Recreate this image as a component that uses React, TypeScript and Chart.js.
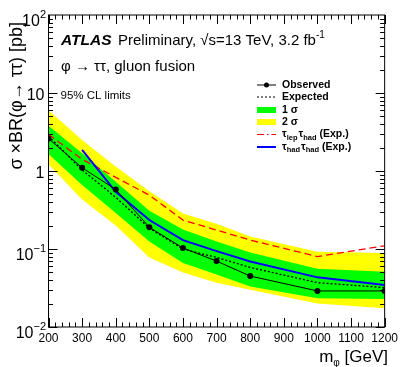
import React, { useEffect, useRef } from "react";
import { Chart, registerables } from "chart.js";
Chart.register(...registerables);

// ---- data ----
const masses = [200, 300, 400, 500, 600, 700, 800, 1000, 1200];
const observed = [2.6, 1.1, 0.58, 0.19, 0.103, 0.07, 0.045, 0.029, 0.029];
const expected = [2.8, 1.03, 0.46, 0.185, 0.1, 0.078, 0.058, 0.037, 0.032];
const band1Up = [3.8, 1.69, 0.73, 0.31, 0.178, 0.125, 0.09, 0.056, 0.051];
const band1Down = [1.65, 0.66, 0.29, 0.125, 0.066, 0.047, 0.033, 0.0233, 0.0229];
const band2Up = [6.0, 2.5, 1.14, 0.55, 0.285, 0.21, 0.145, 0.092, 0.089];
const band2Down = [1.22, 0.43, 0.2, 0.078, 0.05, 0.037, 0.03, 0.02, 0.0174];
const lepHadMasses = [200, 300, 400, 500, 600, 700, 800, 1000, 1200];
const lepHadExp = [2.95, 1.41, 0.83, 0.49, 0.235, 0.175, 0.13, 0.08, 0.11];
const hadHadMasses = [300, 400, 500, 600, 700, 800, 1000, 1200];
const hadHadExp = [1.86, 0.54, 0.235, 0.13, 0.094, 0.069, 0.0433, 0.0345];
const yMajorTicks = [0.01, 0.1, 1, 10, 100];
const yTickExponents = ["-2", "-1", "", "", "2"];
const yTickBases = ["10", "10", "1", "10", "10"];

const FONT = "'Liberation Sans', Arial, Helvetica, sans-serif";
const pts = (xs: number[], ys: number[]) => xs.map((x, i) => ({ x, y: ys[i] }));

const overlay = {
  id: "overlay",
  afterDraw(chart: any) {
    const ctx = chart.ctx as CanvasRenderingContext2D;
    const { left, right, top, bottom } = chart.chartArea;
    const xs = chart.scales.x;
    const ys = chart.scales.y;
    ctx.save();
    // frame
    ctx.strokeStyle = "#000";
    ctx.lineWidth = 1;
    ctx.strokeRect(left, top, right - left, bottom - top);
    // x ticks (bottom & top)
    ctx.beginPath();
    for (let m = 200; m <= 1200; m += 20) {
      const px = Math.round(xs.getPixelForValue(m)) + 0.5;
      const len = m % 100 === 0 ? 9 : 4.5;
      ctx.moveTo(px, bottom);
      ctx.lineTo(px, bottom - len);
      ctx.moveTo(px, top);
      ctx.lineTo(px, top + len);
    }
    // y ticks (left & right)
    for (let e = -2; e < 2; e++) {
      for (let k = 1; k <= 9; k++) {
        const v = k * Math.pow(10, e);
        const py = Math.round(ys.getPixelForValue(v)) + 0.5;
        const len = k === 1 ? 9 : 4.5;
        ctx.moveTo(left, py);
        ctx.lineTo(left + len, py);
        ctx.moveTo(right, py);
        ctx.lineTo(right - len, py);
      }
    }
    ctx.stroke();

    // y tick labels
    ctx.fillStyle = "#000";
    ctx.textBaseline = "alphabetic";
    ctx.textAlign = "left";
    yMajorTicks.forEach((v, i) => {
      const py = ys.getPixelForValue(v);
      const base = yTickBases[i];
      const ex = yTickExponents[i].replace("-", "\u2212");
      const xr = 46;
      ctx.font = `16px ${FONT}`;
      const bw = ctx.measureText(base).width;
      if (ex) {
        ctx.font = `11px ${FONT}`;
        const ew = ctx.measureText(ex).width;
        ctx.font = `16px ${FONT}`;
        const by = py + 10.5;
        ctx.fillText(base, xr - ew - bw, by);
        ctx.font = `11px ${FONT}`;
        ctx.fillText(ex, xr - ew, by - 8);
      } else {
        ctx.fillText(base, xr - 1.5 - bw, py + 6.5);
      }
    });

    // axis titles
    // x title: m_phi [GeV]
    ctx.font = `17px ${FONT}`;
    const wM = ctx.measureText("m").width;
    const wRest = ctx.measureText(" [GeV]").width;
    ctx.font = `10px ${FONT}`;
    const wPhi = ctx.measureText("\u03c6").width;
    let x0 = 388 - (wM + wPhi + wRest);
    const xb = 362;
    ctx.font = `17px ${FONT}`;
    ctx.fillText("m", x0, xb);
    ctx.font = `10px ${FONT}`;
    ctx.fillText("\u03c6", x0 + wM, xb + 3.5);
    ctx.font = `17px ${FONT}`;
    ctx.fillText(" [GeV]", x0 + wM + wPhi, xb);

    // y title
    ctx.save();
    ctx.translate(17, 22);
    ctx.rotate(-Math.PI / 2);
    ctx.font = `18px ${FONT}`;
    ctx.textAlign = "right";
    ctx.textBaseline = "middle";
    ctx.fillText("\u03c3 \u00d7BR(\u03c6\u2192 \u03c4\u03c4) [pb]", 0, 0);
    ctx.restore();

    // ATLAS label
    ctx.textAlign = "left";
    ctx.textBaseline = "alphabetic";
    ctx.font = `italic bold 15.5px ${FONT}`;
    ctx.fillText("ATLAS", 61, 45);
    ctx.font = `15px ${FONT}`;
    const prelim = "Preliminary, \u221As=13 TeV, 3.2 fb";
    ctx.fillText(prelim, 118, 45);
    const pw = ctx.measureText(prelim).width;
    ctx.font = `10px ${FONT}`;
    ctx.fillText("-1", 118 + pw, 38);
    ctx.font = `15px ${FONT}`;
    ctx.fillText("\u03c6 \u2192 \u03c4\u03c4, gluon fusion", 61, 71);
    ctx.font = `11.5px ${FONT}`;
    ctx.fillText("95% CL limits", 60.5, 98.5);

    // legend
    const lx0 = 257, lx1 = 276, tx = 282;
    const rows = [85, 97, 110, 122, 134.5, 147];
    ctx.font = `bold 10.5px ${FONT}`;
    ctx.textBaseline = "middle";
    // Observed
    ctx.strokeStyle = "#000";
    ctx.lineWidth = 1;
    ctx.setLineDash([]);
    ctx.beginPath();
    ctx.moveTo(lx0, rows[0]);
    ctx.lineTo(lx1, rows[0]);
    ctx.stroke();
    ctx.beginPath();
    ctx.arc((lx0 + lx1) / 2, rows[0], 2.5, 0, Math.PI * 2);
    ctx.fill();
    ctx.fillText("Observed", tx, rows[0] + 0.5);
    // Expected
    ctx.setLineDash([2, 2]);
    ctx.beginPath();
    ctx.moveTo(lx0, rows[1]);
    ctx.lineTo(lx1, rows[1]);
    ctx.stroke();
    ctx.setLineDash([]);
    ctx.fillText("Expected", tx, rows[1] + 0.5);
    // 1 sigma
    ctx.fillStyle = "#00ff00";
    ctx.fillRect(lx0, rows[2] - 3, lx1 - lx0, 6);
    ctx.fillStyle = "#000";
    ctx.fillText("1 \u03c3", tx, rows[2] + 0.5);
    // 2 sigma
    ctx.fillStyle = "#ffff00";
    ctx.fillRect(lx0, rows[3] - 3, lx1 - lx0, 6);
    ctx.fillStyle = "#000";
    ctx.fillText("2 \u03c3", tx, rows[3] + 0.5);
    // tau_lep tau_had
    ctx.strokeStyle = "#ff0000";
    ctx.lineWidth = 1.2;
    ctx.setLineDash([7, 3, 1.5, 3]);
    ctx.beginPath();
    ctx.moveTo(lx0, rows[4]);
    ctx.lineTo(lx1, rows[4]);
    ctx.stroke();
    ctx.setLineDash([]);
    const drawTauLabel = (sub1: string, sub2: string, y: number) => {
      let x = tx;
      ctx.font = `bold 10.5px ${FONT}`;
      ctx.fillText("\u03c4", x, y);
      x += ctx.measureText("\u03c4").width;
      ctx.font = `bold 7.5px ${FONT}`;
      ctx.fillText(sub1, x, y + 3);
      x += ctx.measureText(sub1).width + 1;
      ctx.font = `bold 10.5px ${FONT}`;
      ctx.fillText("\u03c4", x, y);
      x += ctx.measureText("\u03c4").width;
      ctx.font = `bold 7.5px ${FONT}`;
      ctx.fillText(sub2, x, y + 3);
      x += ctx.measureText(sub2).width;
      ctx.font = `bold 10.5px ${FONT}`;
      ctx.fillText(" (Exp.)", x, y);
    };
    ctx.fillStyle = "#000";
    drawTauLabel("lep", "had", rows[4]);
    // tau_had tau_had
    ctx.strokeStyle = "#0000ff";
    ctx.lineWidth = 2;
    ctx.beginPath();
    ctx.moveTo(lx0, rows[5]);
    ctx.lineTo(lx1, rows[5]);
    ctx.stroke();
    drawTauLabel("had", "had", rows[5]);
    ctx.restore();
  },
};

export default function App() {
  const ref = useRef<HTMLCanvasElement | null>(null);
  useEffect(() => {
    document.body.style.margin = "0";
    const canvas = ref.current!;
    const chart = new Chart(canvas, {
      type: "line",
      data: {
        datasets: [
          {
            label: "Observed",
            data: pts(masses, observed),
            borderColor: "#000",
            backgroundColor: "#000",
            borderWidth: 1,
            pointRadius: 3,
            pointBorderWidth: 0,
            fill: false,
          },
          {
            label: "tau_had tau_had (Exp.)",
            data: pts(hadHadMasses, hadHadExp),
            borderColor: "#0000ff",
            borderWidth: 2,
            pointRadius: 0,
            fill: false,
          },
          {
            label: "tau_lep tau_had (Exp.)",
            data: pts(lepHadMasses, lepHadExp),
            borderColor: "#ff0000",
            borderWidth: 1.3,
            borderDash: [7, 4],
            pointRadius: 0,
            fill: false,
          },
          {
            label: "Expected",
            data: pts(masses, expected),
            borderColor: "#000",
            borderWidth: 1.3,
            borderDash: [2, 2],
            pointRadius: 0,
            fill: false,
          },
          {
            label: "1 sigma up",
            data: pts(masses, band1Up),
            borderWidth: 0,
            borderColor: "rgba(0,0,0,0)",
            backgroundColor: "#00ff00",
            pointRadius: 0,
            fill: "+1",
          },
          {
            label: "1 sigma down",
            data: pts(masses, band1Down),
            borderWidth: 0,
            borderColor: "rgba(0,0,0,0)",
            pointRadius: 0,
            fill: false,
          },
          {
            label: "2 sigma up",
            data: pts(masses, band2Up),
            borderWidth: 0,
            borderColor: "rgba(0,0,0,0)",
            backgroundColor: "#ffff00",
            pointRadius: 0,
            fill: "+1",
          },
          {
            label: "2 sigma down",
            data: pts(masses, band2Down),
            borderWidth: 0,
            borderColor: "rgba(0,0,0,0)",
            pointRadius: 0,
            fill: false,
          },
        ],
      },
      options: {
        responsive: false,
        maintainAspectRatio: false,
        animation: false,
        devicePixelRatio: 1,
        layout: { padding: { left: 0, right: 14, top: 15, bottom: 0 } },
        plugins: {
          legend: { display: false },
          tooltip: { enabled: false },
          title: { display: false },
        },
        elements: { line: { tension: 0 } },
        scales: {
          x: {
            type: "linear",
            min: 200,
            max: 1200,
            grid: { display: false, drawTicks: false },
            border: { display: false },
            ticks: {
              stepSize: 100,
              autoSkip: false,
              maxRotation: 0,
              padding: 4,
              color: "#000",
              font: { family: FONT, size: 12 },
              callback: (v: any) => String(v),
            },
            afterFit: (s: any) => {
              s.height = 40;
            },
          },
          y: {
            type: "logarithmic",
            min: 0.01,
            max: 100,
            grid: { display: false, drawTicks: false },
            border: { display: false },
            ticks: { display: false },
            afterFit: (s: any) => {
              s.width = 48.5;
            },
          },
        },
      },
      plugins: [overlay],
    } as any);
    return () => chart.destroy();
  }, []);
  return (
    <div style={{ position: "absolute", left: 0, top: 0 }}>
      <canvas ref={ref} width={402} height={367} style={{ display: "block", width: 402, height: 367 }} />
    </div>
  );
}
